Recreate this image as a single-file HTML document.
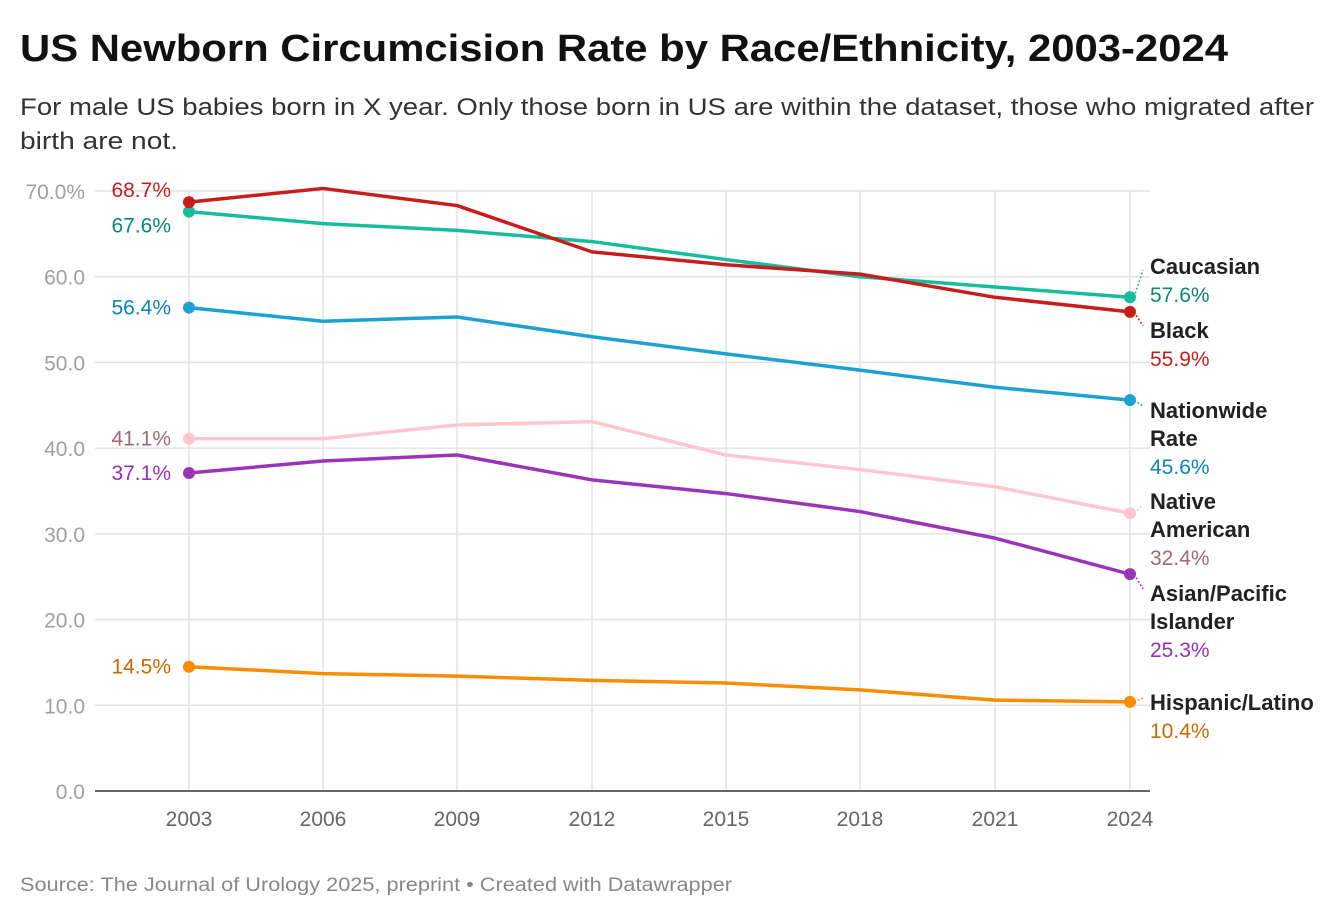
<!DOCTYPE html>
<html><head><meta charset="utf-8">
<style>
body{margin:0;background:#fff;width:1340px;height:918px;overflow:hidden;font-family:"Liberation Sans",Arial,sans-serif;}
</style></head><body>
<svg id="s" width="1340" height="918" xmlns="http://www.w3.org/2000/svg" font-family="Liberation Sans, Arial, sans-serif">
<text x="20" y="61" font-size="38" font-weight="bold" fill="#111" textLength="1208" lengthAdjust="spacingAndGlyphs">US Newborn Circumcision Rate by Race/Ethnicity, 2003-2024</text>
<text x="20" y="115" font-size="24" fill="#333" textLength="1294" lengthAdjust="spacingAndGlyphs">For male US babies born in X year. Only those born in US are within the dataset, those who migrated after</text>
<text x="20" y="149" font-size="24" fill="#333" textLength="158" lengthAdjust="spacingAndGlyphs">birth are not.</text>
<text x="20" y="891" font-size="19" fill="#888" textLength="712" lengthAdjust="spacingAndGlyphs">Source: The Journal of Urology 2025, preprint • Created with Datawrapper</text>
<g id="g"></g>
</svg>
<script>
var g=document.getElementById('g'),h='';
function Y(v){return 791-v*8.5714;}
var xs=[189,323,457,592,726,860,995,1130],yrs=[2003,2006,2009,2012,2015,2018,2021,2024];
for(var v=0;v<=70;v+=10){var y=Y(v);
 if(v>0)h+='<line x1="95" x2="1150" y1="'+y+'" y2="'+y+'" stroke="#e3e3e3" stroke-width="1.5"/>';
 h+='<text x="85" y="'+(y+8)+'" text-anchor="end" font-size="21" fill="#a0a0a0">'+(v==70?'70.0%':v.toFixed(1))+'</text>';}
xs.forEach(function(x,i){h+='<line x1="'+x+'" x2="'+x+'" y1="191" y2="791" stroke="#e3e3e3" stroke-width="1.5"/>';
 h+='<text x="'+x+'" y="826" text-anchor="middle" font-size="21" fill="#666">'+yrs[i]+'</text>';});
h+='<line x1="95" x2="1150" y1="791" y2="791" stroke="#333" stroke-width="1.5"/>';
var S=[
["#ffc6d0","#a06a75",[41.1,41.1,42.7,43.1,39.2,37.5,35.5,32.4],"41.1%",[["Native",509],["American",537]],"32.4%",565],
["#9b35b8","#9a2fb5",[37.1,38.5,39.2,36.3,34.7,32.6,29.5,25.3],"37.1%",[["Asian/Pacific",601],["Islander",629]],"25.3%",657],
["#fa8c00","#c96a00",[14.5,13.7,13.4,12.9,12.6,11.8,10.6,10.4],"14.5%",[["Hispanic/Latino",710]],"10.4%",738],
["#1ba2d3","#0d86b6",[56.4,54.8,55.3,53.0,51.0,49.1,47.1,45.6],"56.4%",[["Nationwide",418],["Rate",446]],"45.6%",474],
["#18bc9c","#0b8a6f",[67.6,66.2,65.4,64.1,62.0,60.0,58.8,57.6],"67.6%",[["Caucasian",274]],"57.6%",302],
["#c71e1d","#c71e1d",[68.7,70.3,68.3,62.9,61.4,60.3,57.6,55.9],"68.7%",[["Black",338]],"55.9%",366]];
var lo={"68.7%":-12,"67.6%":14};
S.forEach(function(s){var p='';s[2].forEach(function(v,i){p+=(i?'L':'M')+xs[i]+','+Y(v);});
 h+='<path d="'+p+'" fill="none" stroke="'+s[0]+'" stroke-width="3.5" stroke-linejoin="round"/>';
 h+='<circle cx="189" cy="'+Y(s[2][0])+'" r="6" fill="'+s[0]+'"/><circle cx="1130" cy="'+Y(s[2][7])+'" r="6" fill="'+s[0]+'"/>';
 var ly=Y(s[2][0])+7+(lo[s[3]]||0);
 h+='<text x="171" y="'+ly+'" text-anchor="end" font-size="21" fill="'+s[1]+'">'+s[3]+'</text>';
 s[4].forEach(function(t){h+='<text x="1150" y="'+t[1]+'" font-size="22" font-weight="bold" fill="#222">'+t[0]+'</text>';});
 h+='<text x="1150" y="'+s[6]+'" font-size="21" fill="'+s[1]+'">'+s[5]+'</text>';
 var ey=Y(s[2][7]),ty=s[4][0][1]-8;
 h+='<line x1="1134" y1="'+ey+'" x2="1143" y2="'+(ty+(ty<ey?4:-4))+'" stroke="'+s[0]+'" stroke-width="1.5" stroke-dasharray="2,2"/>';
});
g.innerHTML=h;
</script>
</body></html>
